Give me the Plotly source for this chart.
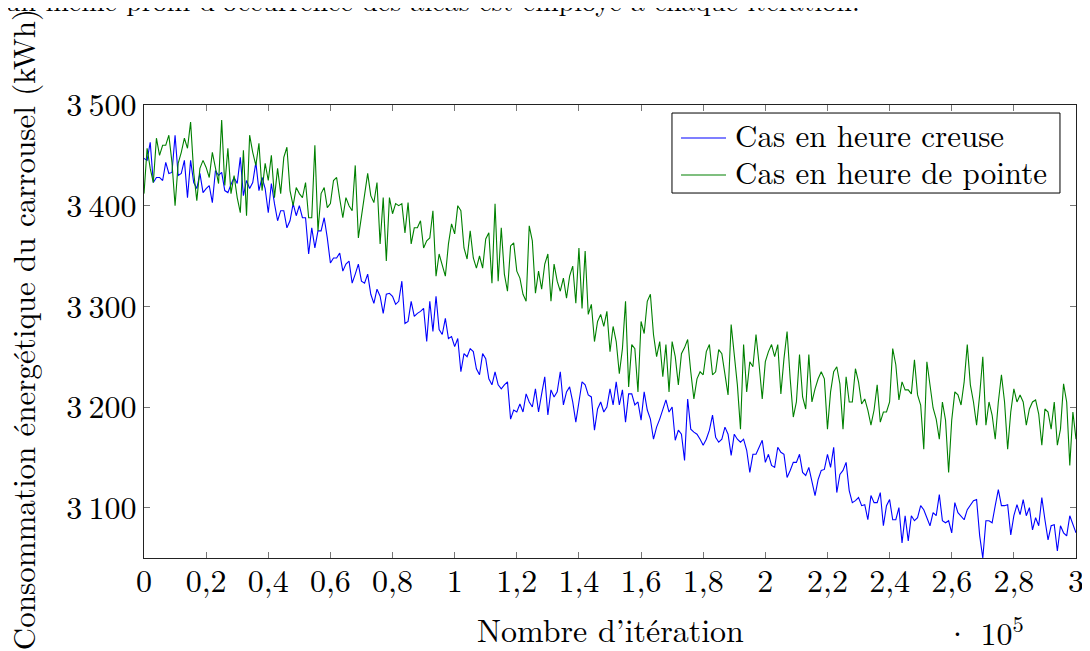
import plotly.graph_objects as go

# iterations (x), sampled every 1000
iterations = [i * 1000 for i in range(301)]

# energy consumption (kWh), off-peak case
creuse = [
    3447, 3445, 3463, 3423, 3428, 3428, 3425, 3443, 3432, 3433,
    3470, 3430, 3432, 3445, 3408, 3445, 3423, 3417, 3432, 3413,
    3417, 3420, 3403, 3435, 3430, 3433, 3415, 3413, 3421, 3428,
    3422, 3448, 3410, 3425, 3417, 3423, 3443, 3415, 3428, 3417,
    3393, 3422, 3402, 3385, 3395, 3395, 3378, 3385, 3402, 3390,
    3400, 3388, 3388, 3352, 3378, 3358, 3375, 3375, 3388, 3368,
    3343, 3348, 3348, 3353, 3335, 3342, 3345, 3323, 3332, 3342,
    3325, 3323, 3332, 3312, 3303, 3317, 3310, 3293, 3312, 3313,
    3310, 3302, 3305, 3325, 3283, 3285, 3305, 3290, 3293, 3295,
    3298, 3265, 3305, 3275, 3310, 3277, 3272, 3288, 3268, 3270,
    3260, 3268, 3235, 3253, 3250, 3258, 3255, 3238, 3232, 3253,
    3248, 3228, 3222, 3235, 3222, 3218, 3222, 3225, 3188, 3197,
    3195, 3203, 3195, 3213, 3205, 3200, 3218, 3195, 3213, 3230,
    3192, 3217, 3210, 3215, 3235, 3202, 3215, 3220, 3205, 3185,
    3205, 3225, 3222, 3212, 3210, 3177, 3198, 3205, 3195, 3200,
    3218, 3202, 3225, 3202, 3217, 3185, 3213, 3213, 3202, 3205,
    3187, 3215, 3197, 3188, 3168, 3180, 3188, 3198, 3207, 3195,
    3200, 3167, 3177, 3173, 3147, 3208, 3178, 3175, 3173, 3168,
    3162, 3168, 3177, 3192, 3170, 3165, 3168, 3180, 3173, 3152,
    3173, 3168, 3165, 3168, 3157, 3135, 3153, 3153, 3160, 3167,
    3145, 3153, 3142, 3140, 3160, 3155, 3153, 3130, 3137, 3145,
    3145, 3153, 3135, 3132, 3140, 3127, 3112, 3128, 3137, 3138,
    3153, 3140, 3160, 3115, 3133, 3137, 3145, 3117, 3105, 3107,
    3110, 3102, 3103, 3088, 3112, 3105, 3105, 3115, 3082, 3102,
    3108, 3088, 3088, 3100, 3065, 3092, 3067, 3092, 3087, 3090,
    3102, 3098, 3090, 3082, 3095, 3092, 3113, 3087, 3085, 3087,
    3075, 3105, 3095, 3092, 3088, 3098, 3102, 3107, 3108, 3072,
    3050, 3087, 3087, 3085, 3102, 3118, 3102, 3102, 3103, 3073,
    3092, 3103, 3093, 3108, 3092, 3100, 3078, 3090, 3082, 3110,
    3088, 3068, 3082, 3083, 3057, 3082, 3075, 3072, 3092, 3083,
    3075,
]

# energy consumption (kWh), peak case
pointe = [
    3412, 3457, 3437, 3423, 3467, 3450, 3460, 3460, 3470, 3443,
    3400, 3442, 3453, 3467, 3457, 3483, 3433, 3405, 3437, 3445,
    3438, 3428, 3453, 3437, 3422, 3485, 3420, 3457, 3412, 3430,
    3408, 3393, 3455, 3390, 3470, 3453, 3440, 3462, 3415, 3442,
    3425, 3450, 3408, 3437, 3412, 3448, 3458, 3415, 3400, 3418,
    3412, 3408, 3423, 3388, 3388, 3460, 3375, 3412, 3418, 3398,
    3402, 3425, 3428, 3407, 3388, 3408, 3400, 3395, 3440, 3368,
    3390, 3412, 3432, 3410, 3403, 3423, 3362, 3408, 3345, 3408,
    3392, 3402, 3400, 3402, 3373, 3403, 3362, 3378, 3378, 3385,
    3358, 3365, 3368, 3395, 3330, 3352, 3340, 3330, 3362, 3382,
    3372, 3400, 3395, 3358, 3347, 3375, 3348, 3338, 3350, 3338,
    3367, 3373, 3323, 3402, 3325, 3378, 3332, 3315, 3360, 3363,
    3335, 3328, 3312, 3305, 3380, 3365, 3313, 3335, 3317, 3342,
    3352, 3305, 3342, 3325, 3315, 3328, 3308, 3330, 3340, 3303,
    3358, 3298, 3355, 3292, 3302, 3265, 3285, 3292, 3280, 3295,
    3255, 3280, 3265, 3233, 3258, 3305, 3220, 3262, 3258, 3215,
    3285, 3273, 3305, 3312, 3272, 3250, 3265, 3230, 3262, 3215,
    3265, 3250, 3222, 3253, 3259, 3267, 3235, 3208, 3228, 3235,
    3232, 3255, 3262, 3232, 3235, 3257, 3253, 3230, 3212, 3282,
    3252, 3222, 3178, 3262, 3215, 3245, 3240, 3272, 3242, 3208,
    3245, 3255, 3262, 3250, 3262, 3213, 3248, 3275, 3228, 3190,
    3205, 3252, 3210, 3198, 3252, 3205, 3218, 3228, 3235, 3228,
    3178, 3215, 3235, 3240, 3223, 3178, 3230, 3205, 3205, 3238,
    3225, 3203, 3208, 3197, 3182, 3197, 3222, 3185, 3195, 3195,
    3205, 3258, 3242, 3207, 3225, 3217, 3217, 3213, 3247, 3212,
    3202, 3158, 3245, 3222, 3199, 3188, 3168, 3205, 3187, 3135,
    3187, 3215, 3212, 3202, 3225, 3262, 3222, 3205, 3182, 3212,
    3250, 3182, 3205, 3192, 3168, 3205, 3232, 3205, 3158, 3195,
    3218, 3205, 3212, 3205, 3182, 3198, 3205, 3207, 3193, 3162,
    3198, 3195, 3178, 3205, 3162, 3178, 3223, 3205, 3142, 3195,
    3168,
]

series_names = ["Cas en heure creuse", "Cas en heure de pointe"]
series_colors = ["#0000ff", "#008000"]

x_ticks = [0, 20000, 40000, 60000, 80000, 100000, 120000, 140000,
           160000, 180000, 200000, 220000, 240000, 260000, 280000, 300000]
x_labels = ["0", "0,2", "0,4", "0,6", "0,8", "1", "1,2", "1,4",
            "1,6", "1,8", "2", "2,2", "2,4", "2,6", "2,8", "3"]
y_ticks = [3100, 3200, 3300, 3400, 3500]
y_labels = ["3\u2009100", "3\u2009200", "3\u2009300", "3\u2009400", "3\u2009500"]

FONT = "Latin Modern Roman, CMU Serif, Liberation Serif, serif"
FS = 32

fig = go.Figure()
for name, ys, col in zip(series_names, [creuse, pointe], series_colors):
    fig.add_trace(go.Scatter(x=iterations, y=ys, mode="lines", name=name,
                             showlegend=False,
                             line=dict(color=col, width=1.1)))

axis_common = dict(showline=True, linecolor="#222", linewidth=1, mirror="allticks",
                   ticks="inside", ticklen=6, tickcolor="#777", tickwidth=1,
                   showgrid=False, zeroline=False,
                   tickfont=dict(family=FONT, size=FS, color="black"))

fig.update_xaxes(range=[0, 300000], tickvals=x_ticks, ticktext=x_labels,
                 ticklabelstandoff=-5, **axis_common)
fig.update_yaxes(range=[3050, 3500], tickvals=y_ticks, ticktext=y_labels,
                 ticklabelstandoff=0, **axis_common)

# pgfplots-like legend box (tighter rows than plotly's own legend)
shapes = [dict(type="rect", xref="paper", yref="paper",
               x0=0.5665, x1=0.9828, y0=0.8057, y1=0.9823,
               line=dict(color="black", width=1), fillcolor="white", layer="above")]
annotations = []
for i, (name, col) in enumerate(zip(series_names, series_colors)):
    yk = 0.9272 - i * 0.0817
    shapes.append(dict(type="line", xref="paper", yref="paper",
                       x0=0.5762, x1=0.6245, y0=yk, y1=yk,
                       line=dict(color=col, width=1.1), layer="above"))
    annotations.append(dict(text=name, x=0.632, y=yk + 0.008, xref="paper", yref="paper",
                            xanchor="left", yanchor="middle", showarrow=False,
                            font=dict(family=FONT, size=31)))

annotations += [
    dict(text="Nombre d\u2019itération", x=0.5, y=-0.155, xref="paper", yref="paper",
         xanchor="center", yanchor="middle", showarrow=False,
         font=dict(family=FONT, size=FS)),
    dict(text="\u00b7 10<sup>5</sup>", x=0.946, y=-0.16, xref="paper", yref="paper",
         xanchor="right", yanchor="middle", showarrow=False,
         font=dict(family=FONT, size=FS)),
    dict(text="Consommation énergétique du carrousel (kWh)", textangle=-90,
         x=-0.131, y=0.505, xref="paper", yref="paper",
         xanchor="center", yanchor="middle", showarrow=False,
         font=dict(family=FONT, size=31)),
    # tail of the document sentence above the figure, cut by the page edge
    dict(text="un même profil d\u2019occurrence des aléas est employé à chaque itération.",
         x=0.770, y=1.185, xref="paper", yref="paper",
         xanchor="right", yanchor="bottom", showarrow=False,
         font=dict(family=FONT, size=28)),
]

fig.update_layout(
    width=1090, height=651,
    # page body adds 8px, so shift the plot area back by that
    margin=dict(l=136, r=22, t=97, b=101),
    paper_bgcolor="white", plot_bgcolor="white",
    font=dict(family=FONT, size=FS, color="black"),
    shapes=shapes,
    annotations=annotations,
)

fig.write_html("out.html")
